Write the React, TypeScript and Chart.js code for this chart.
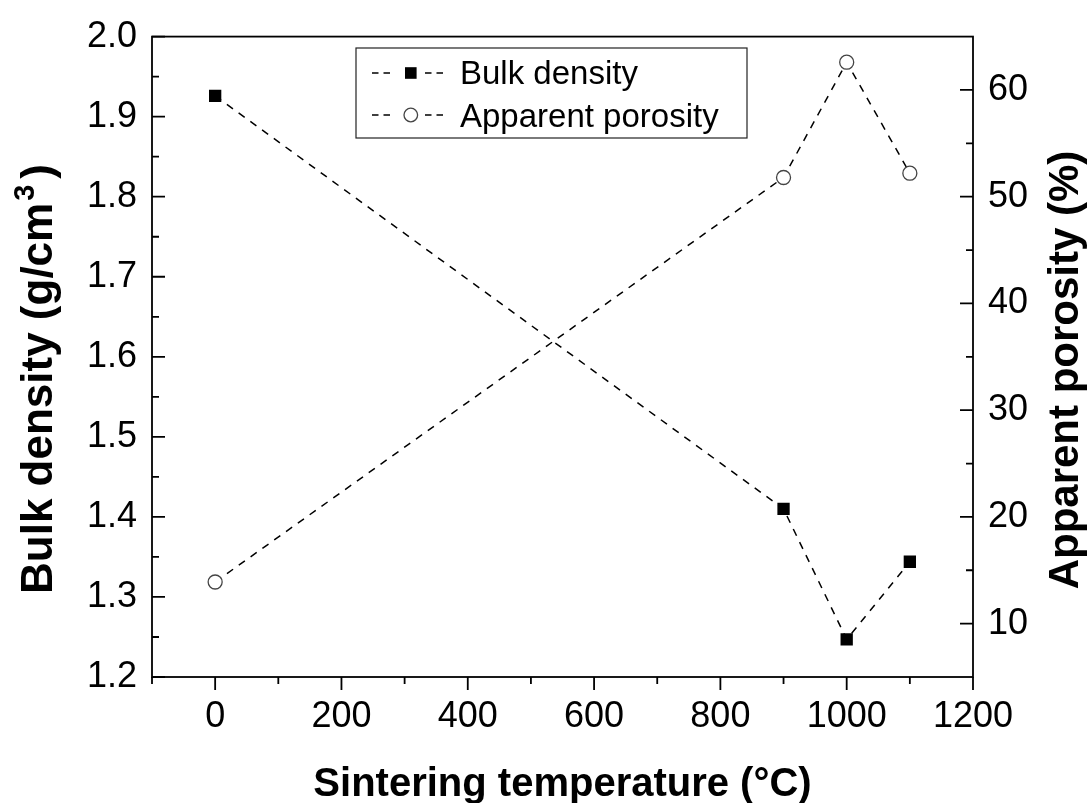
import React, { useEffect, useRef } from 'react';
import { Chart, registerables } from 'chart.js';

Chart.register(...registerables);

const temperatures = [0, 900, 1000, 1100];
const bulkDensity = [1.926, 1.41, 1.247, 1.344];
const apparentPorosity = [13.9, 51.8, 62.6, 52.2];

const xMajorTicks = [0, 200, 400, 600, 800, 1000, 1200];
const xMinorTicks = [-100, 100, 300, 500, 700, 900, 1100];
const yLeftTicks = [1.2, 1.3, 1.4, 1.5, 1.6, 1.7, 1.8, 1.9, 2.0];
const yLeftMinor = [1.25, 1.35, 1.45, 1.55, 1.65, 1.75, 1.85, 1.95];
const yRightTicks = [10, 20, 30, 40, 50, 60];
const yRightMinor = [15, 25, 35, 45, 55];

const seriesNames = ['Bulk density', 'Apparent porosity'];
const xTitle = 'Sintering temperature (°C)';
const yLeftTitleMain = 'Bulk density (g/cm';
const yLeftTitleSup = '3';
const yLeftTitleEnd = ')';
const yRightTitle = 'Apparent porosity (%)';

const FONT = '"Liberation Sans", Arial, Helvetica, sans-serif';

const framePlugin = {
  id: 'frameTicks',
  afterDatasetsDraw(chart: any) {
    const ctx = chart.ctx;
    const ca = chart.chartArea;
    const xs = chart.scales.x;
    const yl = chart.scales.y;
    const yr = chart.scales.y1;
    ctx.save();
    ctx.strokeStyle = '#000';
    ctx.lineWidth = 1.8;
    ctx.strokeRect(ca.left, ca.top, ca.right - ca.left, ca.bottom - ca.top);
    ctx.beginPath();
    xMajorTicks.forEach((v) => {
      const p = xs.getPixelForValue(v);
      ctx.moveTo(p, ca.bottom);
      ctx.lineTo(p, ca.bottom + 13);
    });
    xMinorTicks.forEach((v) => {
      const p = xs.getPixelForValue(v);
      ctx.moveTo(p, ca.bottom);
      ctx.lineTo(p, ca.bottom + 7);
    });
    yLeftTicks.forEach((v) => {
      const p = yl.getPixelForValue(v);
      ctx.moveTo(ca.left, p);
      ctx.lineTo(ca.left + 13, p);
    });
    yLeftMinor.forEach((v) => {
      const p = yl.getPixelForValue(v);
      ctx.moveTo(ca.left, p);
      ctx.lineTo(ca.left + 7, p);
    });
    yRightTicks.forEach((v) => {
      const p = yr.getPixelForValue(v);
      ctx.moveTo(ca.right, p);
      ctx.lineTo(ca.right - 13, p);
    });
    yRightMinor.forEach((v) => {
      const p = yr.getPixelForValue(v);
      ctx.moveTo(ca.right, p);
      ctx.lineTo(ca.right - 7, p);
    });
    ctx.stroke();
    ctx.restore();
  },
  afterDraw(chart: any) {
    const ctx = chart.ctx;
    const ca = chart.chartArea;
    ctx.save();
    ctx.fillStyle = '#000';
    // x title
    ctx.font = `bold 40px ${FONT}`;
    ctx.textAlign = 'center';
    ctx.textBaseline = 'alphabetic';
    ctx.fillText(xTitle, (ca.left + ca.right) / 2, 796);

    // left title with superscript
    ctx.save();
    ctx.translate(52, 379);
    ctx.rotate(-Math.PI / 2);
    ctx.textAlign = 'left';
    const mainFont = `bold 44px ${FONT}`;
    const supFont = `bold 29px ${FONT}`;
    ctx.font = mainFont;
    const w1 = ctx.measureText(yLeftTitleMain).width;
    const w3 = ctx.measureText(yLeftTitleEnd).width;
    ctx.font = supFont;
    const w2 = ctx.measureText(yLeftTitleSup).width + 8;
    const total = w1 + w2 + w3;
    const x0 = -total / 2;
    ctx.font = mainFont;
    ctx.fillText(yLeftTitleMain, x0, 0);
    ctx.font = supFont;
    ctx.fillText(yLeftTitleSup, x0 + w1 + 2, -18);
    ctx.font = mainFont;
    ctx.fillText(yLeftTitleEnd, x0 + w1 + w2, 0);
    ctx.restore();

    // right title
    ctx.save();
    ctx.translate(1078, 370);
    ctx.rotate(-Math.PI / 2);
    ctx.textAlign = 'center';
    ctx.font = `bold 42px ${FONT}`;
    ctx.fillText(yRightTitle, 0, 0);
    ctx.restore();

    // legend
    const bx = 356, by = 48, bw = 391, bh = 90;
    ctx.strokeStyle = '#222';
    ctx.lineWidth = 1.2;
    ctx.strokeRect(bx, by, bw, bh);
    const rows = [73, 115];
    const baselines = [84, 126.5];
    const dashSegs = [[372, 378.5], [383.5, 390], [425, 431.5], [436.5, 443]];
    chart.data.datasets.forEach((ds: any, i: number) => {
      const yy = rows[i];
      ctx.save();
      ctx.strokeStyle = ds.borderColor;
      ctx.lineWidth = ds.borderWidth;
      ctx.beginPath();
      dashSegs.forEach(([a, b]) => {
        ctx.moveTo(a, yy);
        ctx.lineTo(b, yy);
      });
      ctx.stroke();
      ctx.restore();
      ctx.save();
      if (ds.pointStyle === 'rect') {
        ctx.fillStyle = ds.pointBackgroundColor;
        ctx.fillRect(405, yy - 5.8, 11.6, 11.6);
      } else {
        ctx.fillStyle = ds.pointBackgroundColor;
        ctx.strokeStyle = ds.pointBorderColor;
        ctx.lineWidth = ds.pointBorderWidth;
        ctx.beginPath();
        ctx.arc(410.8, yy, 6.8, 0, Math.PI * 2);
        ctx.fill();
        ctx.stroke();
      }
      ctx.restore();
      ctx.fillStyle = '#000';
      ctx.font = `33px ${FONT}`;
      ctx.textAlign = 'left';
      ctx.textBaseline = 'alphabetic';
      ctx.fillText(ds.label, 460, baselines[i]);
    });
    ctx.restore();
  },
};

export default function App() {
  const ref = useRef<HTMLCanvasElement | null>(null);
  useEffect(() => {
    if (!ref.current) return;
    const chart = new Chart(ref.current, {
      type: 'line',
      data: {
        datasets: [
          {
            label: seriesNames[0],
            data: temperatures.map((t, i) => ({ x: t, y: bulkDensity[i] })),
            yAxisID: 'y',
            borderColor: '#000',
            borderWidth: 1.5,
            borderDash: [7.5, 7],
            pointStyle: 'rect',
            pointRadius: 8.7,
            pointHoverRadius: 8.7,
            pointBackgroundColor: '#000',
            pointBorderColor: '#000',
            pointBorderWidth: 0,
            fill: false,
            tension: 0,
          },
          {
            label: seriesNames[1],
            data: temperatures.map((t, i) => ({ x: t, y: apparentPorosity[i] })),
            yAxisID: 'y1',
            borderColor: '#000',
            borderWidth: 1.5,
            borderDash: [7.5, 7],
            pointStyle: 'circle',
            pointRadius: 7,
            pointHoverRadius: 7,
            pointBackgroundColor: '#fff',
            pointBorderColor: '#444',
            pointBorderWidth: 1.3,
            fill: false,
            tension: 0,
          },
        ],
      },
      options: {
        animation: false,
        responsive: true,
        maintainAspectRatio: false,
        layout: { padding: { top: 28, left: 0, right: 0, bottom: 0 } },
        plugins: {
          legend: { display: false },
          tooltip: { enabled: false },
          title: { display: false },
        },
        scales: {
          x: {
            type: 'linear',
            min: -100,
            max: 1200,
            grid: { display: false, drawTicks: false },
            border: { display: false },
            afterBuildTicks: (s: any) => {
              s.ticks = xMajorTicks.map((v) => ({ value: v }));
            },
            afterFit: (s: any) => {
              s.height = 126;
            },
            ticks: {
              padding: 18,
              color: '#000',
              font: { family: FONT, size: 36 },
              maxRotation: 0,
              autoSkip: false,
              callback: (v: any) => String(v),
            },
          },
          y: {
            type: 'linear',
            position: 'left',
            min: 1.2,
            max: 2.0,
            grid: { display: false, drawTicks: false },
            border: { display: false },
            afterBuildTicks: (s: any) => {
              s.ticks = yLeftTicks.map((v) => ({ value: v }));
            },
            afterFit: (s: any) => {
              s.width = 152;
            },
            ticks: {
              padding: 15,
              color: '#000',
              font: { family: FONT, size: 36 },
              autoSkip: false,
              callback: (v: any) => Number(v).toFixed(1),
            },
          },
          y1: {
            type: 'linear',
            position: 'right',
            min: 5,
            max: 65,
            grid: { display: false, drawTicks: false },
            border: { display: false },
            afterBuildTicks: (s: any) => {
              s.ticks = yRightTicks.map((v) => ({ value: v }));
            },
            afterFit: (s: any) => {
              s.width = 116;
            },
            ticks: {
              padding: 15,
              color: '#000',
              font: { family: FONT, size: 36 },
              autoSkip: false,
              callback: (v: any) => String(v),
            },
          },
        },
      },
      plugins: [framePlugin],
    } as any);
    return () => chart.destroy();
  }, []);
  return (
    <div style={{ position: 'fixed', left: 0, top: 0, width: 1089, height: 803, background: '#fff' }}>
      <canvas ref={ref} />
    </div>
  );
}
